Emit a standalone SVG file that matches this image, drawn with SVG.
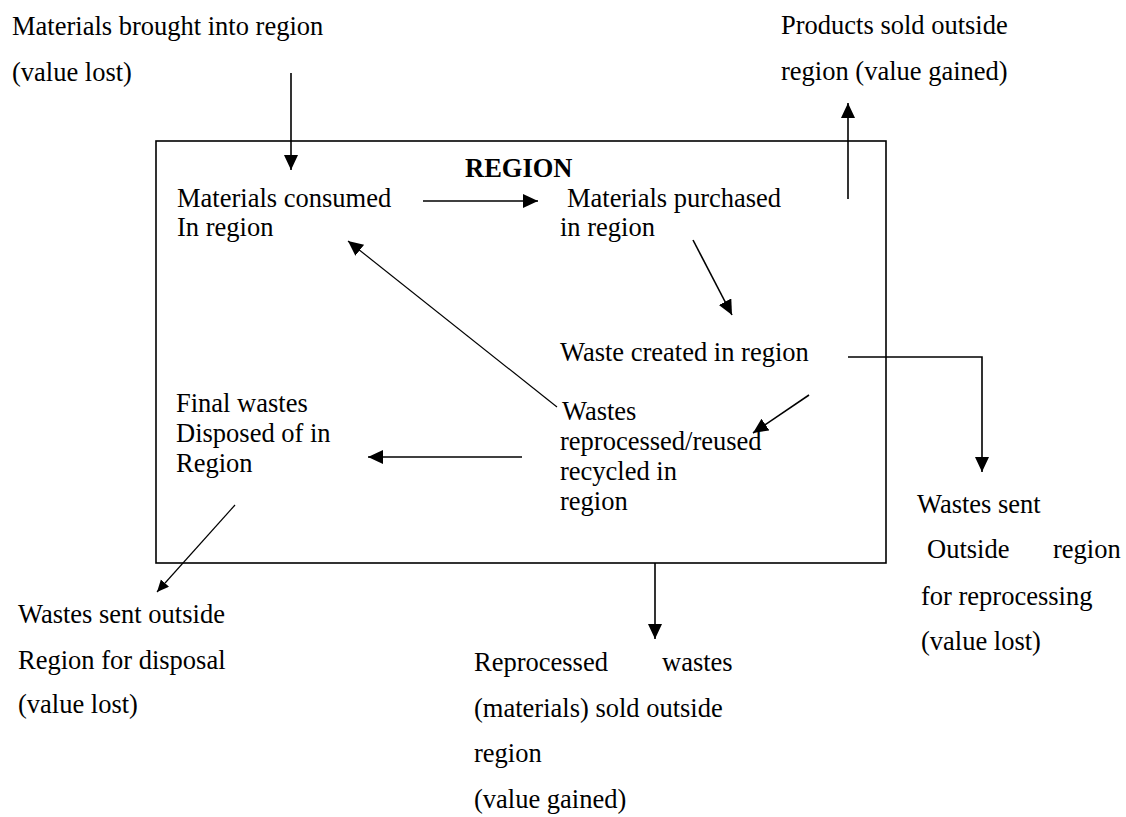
<svg xmlns="http://www.w3.org/2000/svg" width="1126" height="817" viewBox="0 0 1126 817">
<style>
text{font-family:"Liberation Serif","Times New Roman",serif;font-size:26.5px;fill:#000}
.b{font-weight:bold}
.c{fill:none;stroke:#000;stroke-width:1.6}
.t{fill:none;stroke:#000;stroke-width:1.2}
</style>
<defs>
<marker id="ah" markerUnits="userSpaceOnUse" markerWidth="16" markerHeight="16" refX="15" refY="7" orient="auto"><path d="M0,0 L15,7 L0,14 z" fill="#000"/></marker>
<marker id="as" markerUnits="userSpaceOnUse" markerWidth="14" markerHeight="14" refX="12" refY="5.5" orient="auto"><path d="M0,0 L12,5.5 L0,11 z" fill="#000"/></marker>
</defs>
<rect id="region-box" x="156" y="141" width="730" height="422" fill="none" stroke="#000" stroke-width="1.6"/>
<g id="n-brought"><text x="12" y="35">Materials brought into region</text><text x="12" y="81">(value lost)</text></g>
<g id="n-products"><text x="781" y="34">Products sold outside</text><text x="781" y="80">region (value gained)</text></g>
<g id="n-region-title"><text class="b" x="465" y="177">REGION</text></g>
<g id="n-consumed"><text x="177" y="207">Materials consumed</text><text x="177" y="236">In region</text></g>
<g id="n-purchased"><text x="567" y="207">Materials purchased</text><text x="560" y="236">in region</text></g>
<g id="n-waste-created"><text x="560" y="361">Waste created in region</text></g>
<g id="n-reprocessed"><text x="562" y="420">Wastes</text><text x="560" y="450">reprocessed/reused</text><text x="560" y="480">recycled in</text><text x="560" y="510">region</text></g>
<g id="n-final"><text x="176" y="412">Final wastes</text><text x="176" y="442">Disposed of in</text><text x="176" y="472">Region</text></g>
<g id="n-disposal"><text x="18" y="623">Wastes sent outside</text><text x="18" y="669">Region for disposal</text><text x="18" y="713">(value lost)</text></g>
<g id="n-sold-wastes"><text x="474" y="671">Reprocessed</text><text x="662" y="671">wastes</text><text x="474" y="717">(materials) sold outside</text><text x="474" y="762">region</text><text x="474" y="808">(value gained)</text></g>
<g id="n-sent-outside"><text x="917" y="513">Wastes sent</text><text x="927" y="558">Outside</text><text x="1053" y="558">region</text><text x="921" y="605">for reprocessing</text><text x="921" y="650">(value lost)</text></g>
<g id="connectors">
<line class="c" x1="291" y1="73" x2="291" y2="170" marker-end="url(#ah)"/>
<line class="c" x1="423" y1="201" x2="538" y2="201" marker-end="url(#ah)"/>
<line class="c" x1="693" y1="240" x2="732" y2="315" marker-end="url(#ah)"/>
<polyline class="c" points="848,357 982,357 982,472" marker-end="url(#ah)"/>
<line class="c" x1="848" y1="199" x2="848" y2="103" marker-end="url(#ah)"/>
<line class="t" x1="557" y1="407" x2="348" y2="241" marker-end="url(#ah)"/>
<line class="c" x1="809" y1="395" x2="753" y2="433" marker-end="url(#ah)"/>
<line class="c" x1="522" y1="457" x2="368" y2="457" marker-end="url(#ah)"/>
<line class="t" x1="235" y1="505" x2="157" y2="592" marker-end="url(#as)"/>
<line class="c" x1="655" y1="563" x2="655" y2="639" marker-end="url(#ah)"/>
</g>
</svg>
